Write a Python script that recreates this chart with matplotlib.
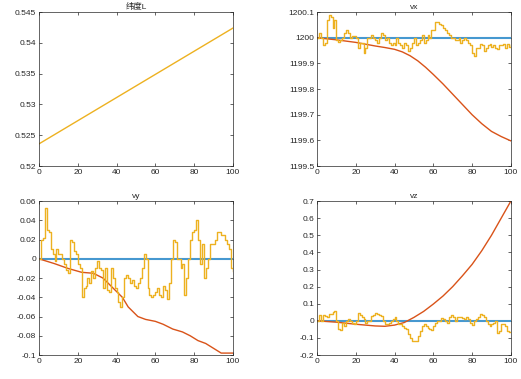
import numpy as np
import matplotlib
matplotlib.use('Agg')
import matplotlib.pyplot as plt

plt.rcParams['font.family'] = ['Liberation Sans', 'Noto Sans CJK SC', 'DejaVu Sans']
plt.rcParams['font.size'] = 6

# colours (MATLAB default order)
c_blue = '#4698D0'
c_red = '#D95319'
c_yel = '#EDB120'

# latitude L
lat_x = [0, 100]
lat_y = [0.5236, 0.5424]

# vx
vx_true = 1200.0
vx_est_x = [0, 10, 20, 30, 35, 40, 44, 48, 52, 56, 60, 65, 70, 75, 80, 85, 90, 95, 100]
vx_est = [1200, 1199.992, 1199.982, 1199.968, 1199.962, 1199.955, 1199.945, 1199.93,
          1199.91, 1199.885, 1199.857, 1199.82, 1199.78, 1199.74, 1199.70, 1199.665,
          1199.635, 1199.615, 1199.598]
vx_meas = [1200.0, 1200.02, 1200.0, 1199.97, 1199.98, 1200.07, 1200.09, 1200.08, 1200.04, 1200.07,
           1199.99, 1199.985, 1199.99, 1200.0, 1200.02, 1200.03, 1200.02, 1200.0, 1200.005, 1200.005,
           1200.0, 1199.96, 1199.98, 1199.98, 1199.94, 1199.96, 1200.0, 1200.0, 1200.01, 1200.0,
           1199.99, 1199.98, 1200.0, 1200.02, 1200.01, 1199.99, 1200.0, 1199.98, 1199.97, 1199.98,
           1199.97, 1200.0, 1199.98, 1199.97, 1199.96, 1199.98, 1199.97, 1199.95, 1199.96, 1199.98,
           1200.0, 1199.97, 1199.98, 1199.99, 1200.01, 1199.98, 1199.99, 1200.01, 1200.0, 1200.03,
           1200.03, 1200.06, 1200.06, 1200.055, 1200.05, 1200.04, 1200.03, 1200.02, 1200.01, 1200.0,
           1200.0, 1199.99, 1199.99, 1200.0, 1199.98, 1199.99, 1200.0, 1199.99, 1199.98, 1199.97,
           1199.94, 1199.93, 1199.96, 1199.96, 1199.975, 1199.97, 1199.95, 1199.96, 1199.97, 1199.975,
           1199.965, 1199.97, 1199.96, 1199.955, 1199.97, 1199.97, 1199.975, 1199.96, 1199.975, 1199.965,
           1199.97]

# vy
vy_est_x = [0, 8, 15, 22, 28, 33, 38, 43, 46, 51, 55, 60, 64, 69, 74, 78, 82, 86, 90, 94, 100]
vy_est = [0, -0.005, -0.01, -0.014, -0.015, -0.02, -0.03, -0.04, -0.05, -0.06, -0.063, -0.065,
          -0.068, -0.073, -0.076, -0.08, -0.085, -0.088, -0.093, -0.098, -0.098]
vy_meas = [0.0, 0.02, 0.022, 0.053, 0.03, 0.028, 0.01, 0.005, -0.002, 0.01,
           0.005, 0.005, 0.0, -0.005, -0.012, -0.015, 0.02, 0.018, 0.008, 0.005,
           -0.005, -0.01, -0.04, -0.03, -0.028, -0.02, -0.025, -0.013, -0.02, -0.01,
           -0.002, -0.01, -0.012, -0.03, -0.01, -0.032, -0.034, -0.01, -0.02, -0.03,
           -0.035, -0.045, -0.05, -0.04, -0.02, -0.017, -0.02, -0.025, -0.022, -0.028,
           -0.03, -0.025, -0.02, -0.01, 0.005, 0.0, -0.03, -0.038, -0.04, -0.038,
           -0.035, -0.03, -0.038, -0.04, -0.028, -0.032, -0.042, -0.025, 0.0, 0.02,
           0.018, 0.0, 0.0, -0.01, -0.005, -0.038, -0.02, 0.0, 0.02, 0.028,
           0.03, 0.04, 0.02, -0.005, 0.015, -0.02, -0.01, 0.0, 0.015, 0.015,
           0.015, 0.02, 0.028, 0.028, 0.025, 0.025, 0.02, 0.015, 0.01, -0.01,
           -0.013]

# vz
vz_est_x = [0, 10, 20, 30, 35, 40, 45, 50, 55, 60, 65, 70, 75, 80, 85, 90, 95, 100]
vz_est = [0, -0.008, -0.02, -0.03, -0.032, -0.025, -0.01, 0.02, 0.055, 0.098, 0.145, 0.2,
          0.263, 0.33, 0.41, 0.5, 0.6, 0.7]
vz_meas = [0.0, 0.035, 0.0, 0.035, 0.03, 0.02, 0.04, 0.04, 0.05, 0.055,
           0.0, -0.05, -0.055, -0.01, -0.03, 0.0, 0.01, 0.0, -0.01, -0.02,
           0.0, 0.045, 0.035, 0.02, 0.01, -0.01, 0.0, 0.0, 0.03, 0.035,
           0.045, 0.04, 0.035, 0.03, 0.0, -0.02, -0.02, -0.01, 0.0, 0.01,
           0.02, 0.0, -0.02, -0.02, -0.03, -0.04, -0.05, -0.08, -0.1, -0.12,
           -0.12, -0.12, -0.09, -0.06, -0.03, -0.02, -0.03, -0.04, -0.05, -0.055,
           -0.03, -0.01, 0.0, 0.0, 0.015, 0.01, 0.0, -0.01, 0.02, 0.035,
           0.02, 0.0, 0.02, 0.025, 0.02, 0.015, 0.01, 0.02, 0.01, -0.01,
           -0.025, 0.0, 0.01, 0.02, 0.04, 0.035, 0.02, 0.0, -0.02, -0.03,
           -0.02, -0.01, 0.0, -0.07, -0.06, -0.02, -0.02, -0.03, -0.06, -0.065,
           -0.065]

t = np.arange(101)

fig = plt.figure(figsize=(5.21, 3.79), dpi=100)
W, H = 0.372, 0.406
ax1 = fig.add_axes([0.0749, 0.562, W, H])
ax2 = fig.add_axes([0.6085, 0.562, W, H])
ax3 = fig.add_axes([0.0749, 0.0633, W, H])
ax4 = fig.add_axes([0.6085, 0.0633, W, H])


def style(ax, title, ylim, yticks, ylabels=None):
    ax.set_xlim(0, 100)
    ax.set_ylim(*ylim)
    ax.set_xticks([0, 20, 40, 60, 80, 100])
    ax.set_yticks(yticks)
    if ylabels is not None:
        ax.set_yticklabels(ylabels)
    ax.set_title(title, fontsize=6, pad=2, color='#262626')
    ax.tick_params(direction='in', length=2.5, width=0.5, top=True, right=True,
                   colors='#262626', labelsize=6, pad=2)
    for s in ax.spines.values():
        s.set_linewidth(0.5)
        s.set_color('#262626')


ax1.plot(lat_x, lat_y, color=c_yel, lw=1.0)
style(ax1, '纬度L', (0.52, 0.545), [0.52, 0.525, 0.53, 0.535, 0.54, 0.545],
      ['0.52', '0.525', '0.53', '0.535', '0.54', '0.545'])

ax2.axhline(vx_true, color=c_blue, lw=1.5)
ax2.plot(vx_est_x, vx_est, color=c_red, lw=1.0)
ax2.step(t, vx_meas, where='post', color=c_yel, lw=1.0)
style(ax2, 'vx', (1199.5, 1200.1), [1199.5, 1199.6, 1199.7, 1199.8, 1199.9, 1200, 1200.1],
      ['1199.5', '1199.6', '1199.7', '1199.8', '1199.9', '1200', '1200.1'])

ax3.axhline(0, color=c_blue, lw=1.5)
ax3.plot(vy_est_x, vy_est, color=c_red, lw=1.0)
ax3.step(t, vy_meas, where='post', color=c_yel, lw=1.0)
style(ax3, 'vy', (-0.1, 0.06), [-0.1, -0.08, -0.06, -0.04, -0.02, 0, 0.02, 0.04, 0.06],
      ['-0.1', '-0.08', '-0.06', '-0.04', '-0.02', '0', '0.02', '0.04', '0.06'])

ax4.axhline(0, color=c_blue, lw=1.5)
ax4.plot(vz_est_x, vz_est, color=c_red, lw=1.0)
ax4.step(t, vz_meas, where='post', color=c_yel, lw=1.0)
style(ax4, 'vz', (-0.2, 0.7), [-0.2, -0.1, 0, 0.1, 0.2, 0.3, 0.4, 0.5, 0.6, 0.7],
      ['-0.2', '-0.1', '0', '0.1', '0.2', '0.3', '0.4', '0.5', '0.6', '0.7'])

fig.savefig('out.png', dpi=100)
